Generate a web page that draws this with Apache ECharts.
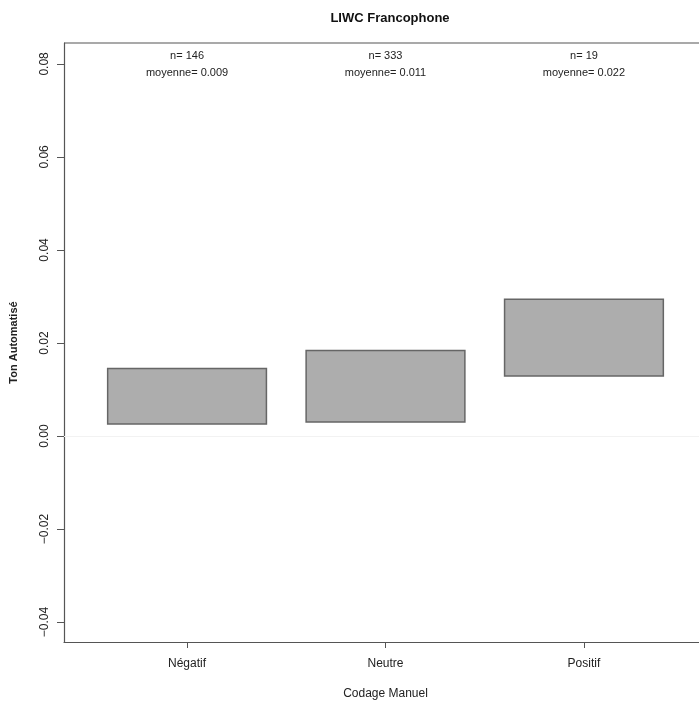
<!DOCTYPE html>
<html><head><meta charset="utf-8">
<script src="https://cdn.jsdelivr.net/npm/echarts@6/dist/echarts.min.js"></script>
<style>html,body{margin:0;padding:0;background:#fff}#c{width:699px;height:704px}</style>
</head><body><div id="c"></div>
<script>
var categories = ['Négatif', 'Neutre', 'Positif'];
var lowValues = [0.0026, 0.0030, 0.0129];
var highValues = [0.0145, 0.0184, 0.0294];
var counts = [146, 333, 19];
var means = ['0.009', '0.011', '0.022'];
var yTicks = [-0.04, -0.02, 0.00, 0.02, 0.04, 0.06, 0.08];
var xTicks = [1, 2, 3];

var data = categories.map(function (c, i) { return [i + 1, lowValues[i], highValues[i], counts[i], means[i]]; });

var chart = echarts.init(document.getElementById('c'), null, {renderer: 'canvas'});
var font = '"Liberation Sans", Arial, Helvetica, sans-serif';
chart.setOption({
  animation: false,
  title: {text: 'LIWC Francophone', left: 385, top: 7, textAlign: 'center',
    textStyle: {fontFamily: font, fontSize: 13, fontWeight: 'bold', color: '#111'}},
  grid: {left: 64, top: 43, width: 643, height: 599, show: false, containLabel: false, outerBoundsMode: 'none'},
  xAxis: {
    type: 'value', min: 0.38, max: 3.62,
    name: 'Codage Manuel', nameLocation: 'middle', nameGap: 46,
    nameTextStyle: {fontFamily: font, fontSize: 12, color: '#222'},
    axisLine: {show: true, onZero: false, lineStyle: {color: '#555', width: 1.2}},
    axisTick: {show: true, length: 6, customValues: xTicks, lineStyle: {color: '#555'}},
    axisLabel: {customValues: xTicks, margin: 16, fontFamily: font, fontSize: 12, color: '#222',
      formatter: function (v) { return categories[Math.round(v) - 1] || ''; }},
    splitLine: {show: false}
  },
  yAxis: [{
    type: 'value', min: -0.0443, max: 0.0845,
    name: 'Ton Automatisé', nameLocation: 'middle', nameGap: 45, nameRotate: 90,
    nameTextStyle: {fontFamily: font, fontSize: 11, fontWeight: 'bold', color: '#222'},
    axisLine: {show: true, lineStyle: {color: '#555', width: 1.2}},
    axisTick: {show: true, length: 7, customValues: yTicks, lineStyle: {color: '#555'}},
    axisLabel: {customValues: yTicks, rotate: 90, margin: 13, fontFamily: font, fontSize: 12, color: '#222',
      formatter: function (v) { return (v < 0 ? '\u2212' : '') + Math.abs(v).toFixed(2); }},
    splitLine: {show: false}
  }],
  series: [{
    type: 'custom',
    data: data,
    encode: {x: 0, y: [1, 2]},
    renderItem: function (params, api) {
      var x = api.value(0);
      var lo = api.coord([x - 0.4, api.value(1)]);
      var hi = api.coord([x + 0.4, api.value(2)]);
      var cs = params.coordSys;
      var cx = api.coord([x, 0])[0];
      return {
        type: 'group',
        children: [{
          type: 'rect',
          shape: {x: lo[0], y: hi[1], width: hi[0] - lo[0], height: lo[1] - hi[1]},
          style: {fill: '#adadad', stroke: '#666', lineWidth: 1.5}
        }, {
          type: 'text',
          style: {x: cx, y: cs.y + 12.5, text: 'n= ' + api.value(3), textAlign: 'center', textVerticalAlign: 'middle',
            font: '11px ' + font, fill: '#222'}
        }, {
          type: 'text',
          style: {x: cx, y: cs.y + 29.5, text: 'moyenne= ' + data[params.dataIndex][4], textAlign: 'center', textVerticalAlign: 'middle',
            font: '11px ' + font, fill: '#222'}
        }]
      };
    },
    markLine: {silent: true, symbol: 'none', label: {show: false},
      lineStyle: {color: '#f2f2f2', type: 'solid', width: 1},
      data: [{yAxis: 0}]}
  }],
  graphic: [{
    type: 'line', shape: {x1: 64, y1: 43, x2: 699, y2: 43}, style: {stroke: '#555', lineWidth: 1.2}
  }]
});
</script>
</body></html>
